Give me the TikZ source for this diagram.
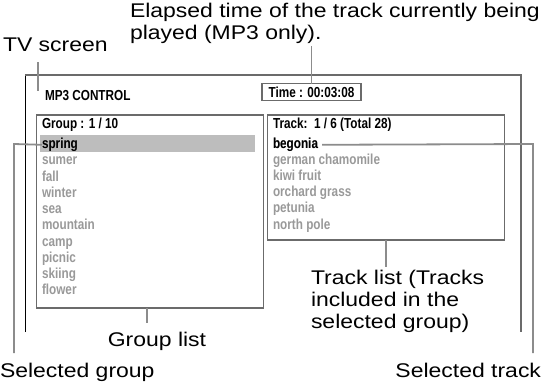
\documentclass[tikz,border=0pt]{standalone}
\usepackage{fontspec}
\setmainfont[FakeStretch=1.16]{Liberation Sans}
\newfontfamily\screenfont[FakeStretch=0.81]{Liberation Sans}
\usetikzlibrary{positioning}

\definecolor{boxgray}{gray}{0.42}
\definecolor{leadgray}{gray}{0.55}
\definecolor{itemgray}{gray}{0.6}
\definecolor{selgray}{gray}{0.74}

\begin{document}
\begin{tikzpicture}[x=1pt, y=-1pt,
  every node/.style={inner sep=0pt, outer sep=0pt},
  callout/.style={font=\fontsize{19.8}{22}\selectfont, align=left},
  scr/.style={font=\screenfont\bfseries\fontsize{14.5}{16}\selectfont, anchor=base west},
  item/.style={scr, text=itemgray},
  panel/.style={draw=boxgray, line width=1.8pt},
  lead/.style={draw=leadgray, line width=1.8pt},
]
  \useasboundingbox (0,0) rectangle (543,381);

  % screen frame (open at the bottom)
  \coordinate (frameBL) at (25,332);
  \coordinate (frameTL) at (25,75);
  \coordinate (frameTR) at (521,75);
  \coordinate (frameBR) at (521,332);
  \draw[black, line width=0.8pt] (frameBL) -- (frameTL);
  \draw[boxgray, line width=1.6pt] (frameTL) -- (frameTR) -- (frameBR);

  % callout texts
  \node[callout, anchor=base west] (tvlabel) at (3,51) {TV screen};
  \node[callout, anchor=north west] (elapsed) at (130,3)
       {Elapsed time of the track currently being\\played (MP3 only).};
  \node[callout, anchor=base west] (selgrp) at (0,377) {Selected group};
  \node[callout, anchor=base] (grplist) at (157,346) {Group list};
  \node[callout, anchor=north west] (trklist) at (311,270)
       {Track list (Tracks\\included in the\\selected group)};
  \node[callout, anchor=base east] (seltrk) at (541,377) {Selected track};

  % screen contents
  \node[scr] (title) at (45,100) {MP3 CONTROL};
  \node[panel, minimum width=99pt, minimum height=17pt,
        font=\screenfont\bfseries\fontsize{14.5}{16}\selectfont]
       (time) at (311.5,92) {Time : 00:03:08};

  \node[panel, minimum width=227pt, minimum height=193pt] (grpbox) at (150,211.5) {};
  \node[panel, minimum width=237pt, minimum height=125pt] (trkbox) at (386,177.5) {};

  \node[scr] (grphead) at (42,128) {Group : 1 / 10};
  \node[scr] (trkhead) at (273,128) {Track:\ \ 1 / 6 (Total 28)};

  \fill[selgray] (40,135) rectangle (255,152);
  \foreach \name [count=\i] in {spring, sumer, fall, winter, sea, mountain, camp, picnic, skiing, flower}
    \node[item] (g\i) at (42,{148.5+16.25*(\i-1)}) {\name};
  \node[scr] at (g1.base west) {spring};

  \foreach \name [count=\i] in {begonia, german chamomile, kiwi fruit, orchard grass, petunia, north pole}
    \node[item] (t\i) at (273,{148.5+16.1*(\i-1)}) {\name};
  \node[scr] at (t1.base west) {begonia};

  % leader lines
  \coordinate (tvtop) at (38,62);
  \coordinate (tvend) at (38,91);
  \draw[lead] (tvtop) -- (tvend);
  \draw[lead] (elapsed.south -| time.north) ++(0,3) -- (time.north);
  \coordinate (sgcorner) at (14,144);
  \coordinate (sgend) at (14,353);
  \draw[lead] (g1.west) -- (sgcorner) -- (sgend);
  \coordinate (glend) at (147,323);
  \draw[lead] (grpbox.south -| glend) -- (glend);
  \coordinate (tlend) at (386,267);
  \draw[lead] (trkbox.south) -- (tlend);
  \coordinate (stcorner) at (533,144);
  \coordinate (stend) at (533,353);
  \draw[lead] ([xshift=4pt]t1.east) -- (stcorner) -- (stend);
\end{tikzpicture}
\end{document}
